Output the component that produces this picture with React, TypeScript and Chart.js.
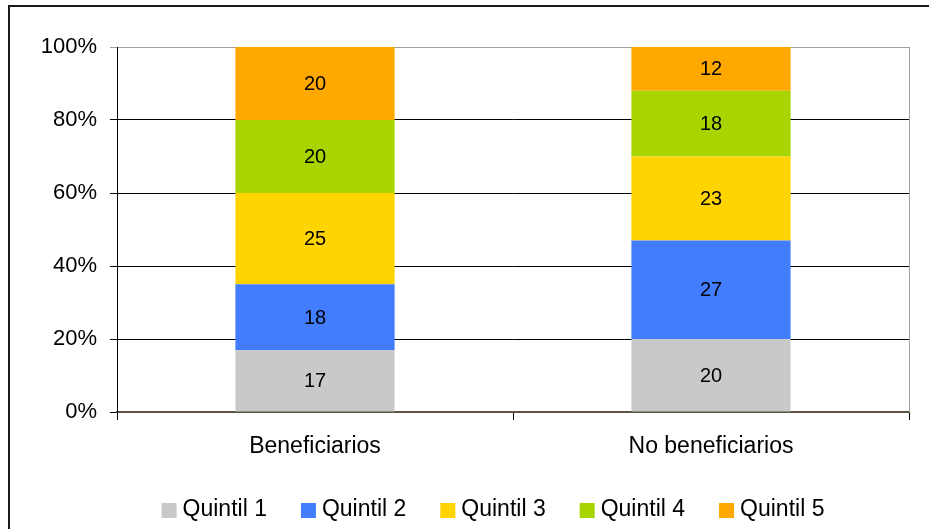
import React, { useEffect, useRef } from "react";
import { Chart, registerables } from "chart.js";

Chart.register(...registerables);

const categories = ["Beneficiarios", "No beneficiarios"];
const seriesNames = ["Quintil 1", "Quintil 2", "Quintil 3", "Quintil 4", "Quintil 5"];
const quintil1 = [17, 20];
const quintil2 = [18, 27];
const quintil3 = [25, 23];
const quintil4 = [20, 18];
const quintil5 = [20, 12];
const seriesValues = [quintil1, quintil2, quintil3, quintil4, quintil5];
const seriesColors = ["#C9C9C9", "#427DFF", "#FFD400", "#A8D400", "#FFA800"];
const yTicks = [0, 20, 40, 60, 80, 100];

const FONT = "'Liberation Sans', Arial, sans-serif";

const decorPlugin = {
  id: "decor",
  afterDatasetsDraw(chart: any) {
    const ctx = chart.ctx;
    const area = chart.chartArea;
    ctx.save();
    ctx.font = `20px ${FONT}`;
    ctx.fillStyle = "#000";
    ctx.textAlign = "center";
    ctx.textBaseline = "middle";
    chart.data.datasets.forEach((ds: any, i: number) => {
      const meta = chart.getDatasetMeta(i);
      meta.data.forEach((el: any, j: number) => {
        const { x, y, base } = el.getProps(["x", "y", "base"], true);
        ctx.fillText(String(ds.data[j]), x, (y + base) / 2 + 1);
      });
    });
    ctx.restore();
    ctx.save();
    ctx.strokeStyle = "#A0A0A0";
    ctx.lineWidth = 1;
    ctx.beginPath();
    ctx.moveTo(Math.round(area.right) + 0.5, area.top);
    ctx.lineTo(Math.round(area.right) + 0.5, area.bottom);
    ctx.stroke();
    ctx.restore();
  },
  afterDraw(chart: any) {
    const ctx = chart.ctx;
    ctx.save();
    ctx.font = `23px ${FONT}`;
    ctx.textBaseline = "middle";
    ctx.textAlign = "left";
    const box = 15;
    const gapText = 6;
    const gapItem = 34;
    const widths = chart.data.datasets.map((ds: any) => box + gapText + ctx.measureText(ds.label).width);
    const total = widths.reduce((a: number, b: number) => a + b, 0) + gapItem * (widths.length - 1);
    let x = 493 - total / 2;
    const cy = 510;
    chart.data.datasets.forEach((ds: any, i: number) => {
      ctx.fillStyle = ds.backgroundColor;
      ctx.fillRect(x, cy - 7, box, box);
      ctx.fillStyle = "#000";
      ctx.fillText(ds.label, x + box + gapText, cy);
      x += widths[i] + gapItem;
    });
    ctx.restore();
    ctx.save();
    ctx.strokeStyle = "#1A1A1A";
    ctx.lineWidth = 2;
    ctx.strokeRect(9, 6, 1000, 1000);
    ctx.restore();
  },
};

export default function App() {
  const ref = useRef<HTMLCanvasElement | null>(null);
  useEffect(() => {
    document.body.style.margin = "0";
    const canvas = ref.current!;
    const chart = new Chart(canvas, {
      type: "bar",
      data: {
        labels: categories,
        datasets: seriesValues.map((vals, i) => ({
          label: seriesNames[i],
          data: vals,
          backgroundColor: seriesColors[i],
          borderWidth: 0,
          categoryPercentage: 1,
          barPercentage: 0.402,
        })),
      },
      options: {
        responsive: false,
        animation: false,
        devicePixelRatio: 1,
        layout: { padding: { top: 47, right: 20, left: 0, bottom: 0 } },
        plugins: {
          legend: { display: false },
          tooltip: { enabled: false },
        },
        scales: {
          x: {
            stacked: true,
            offset: true,
            afterFit: (s: any) => {
              s.height = 117;
            },
            grid: {
              offset: true,
              drawOnChartArea: false,
              drawTicks: true,
              tickLength: 8,
              color: "#000",
            },
            border: { color: "#5A5244", width: 2 },
            ticks: {
              color: "#000",
              font: { family: FONT, size: 23 },
              padding: 13,
              maxRotation: 0,
            },
          },
          y: {
            stacked: true,
            min: 0,
            max: 100,
            afterFit: (s: any) => {
              s.width = 117;
            },
            afterBuildTicks: (s: any) => {
              s.ticks = yTicks.map((v) => ({ value: v }));
            },
            grid: {
              color: (c: any) => (c.tick && c.tick.value === 100 ? "#A0A0A0" : "#000"),
              lineWidth: 1,
              tickLength: 7,
              drawTicks: true,
            },
            border: { color: "#000", width: 1 },
            ticks: {
              color: "#000",
              font: { family: FONT, size: 22 },
              padding: 13,
              callback: (v: any) => `${v}%`,
            },
          },
        },
      },
      plugins: [decorPlugin],
    });
    return () => chart.destroy();
  }, []);
  return (
    <div style={{ width: 929, height: 529, background: "#fff" }}>
      <canvas ref={ref} width={929} height={529} style={{ width: 929, height: 529, display: "block" }} />
    </div>
  );
}
